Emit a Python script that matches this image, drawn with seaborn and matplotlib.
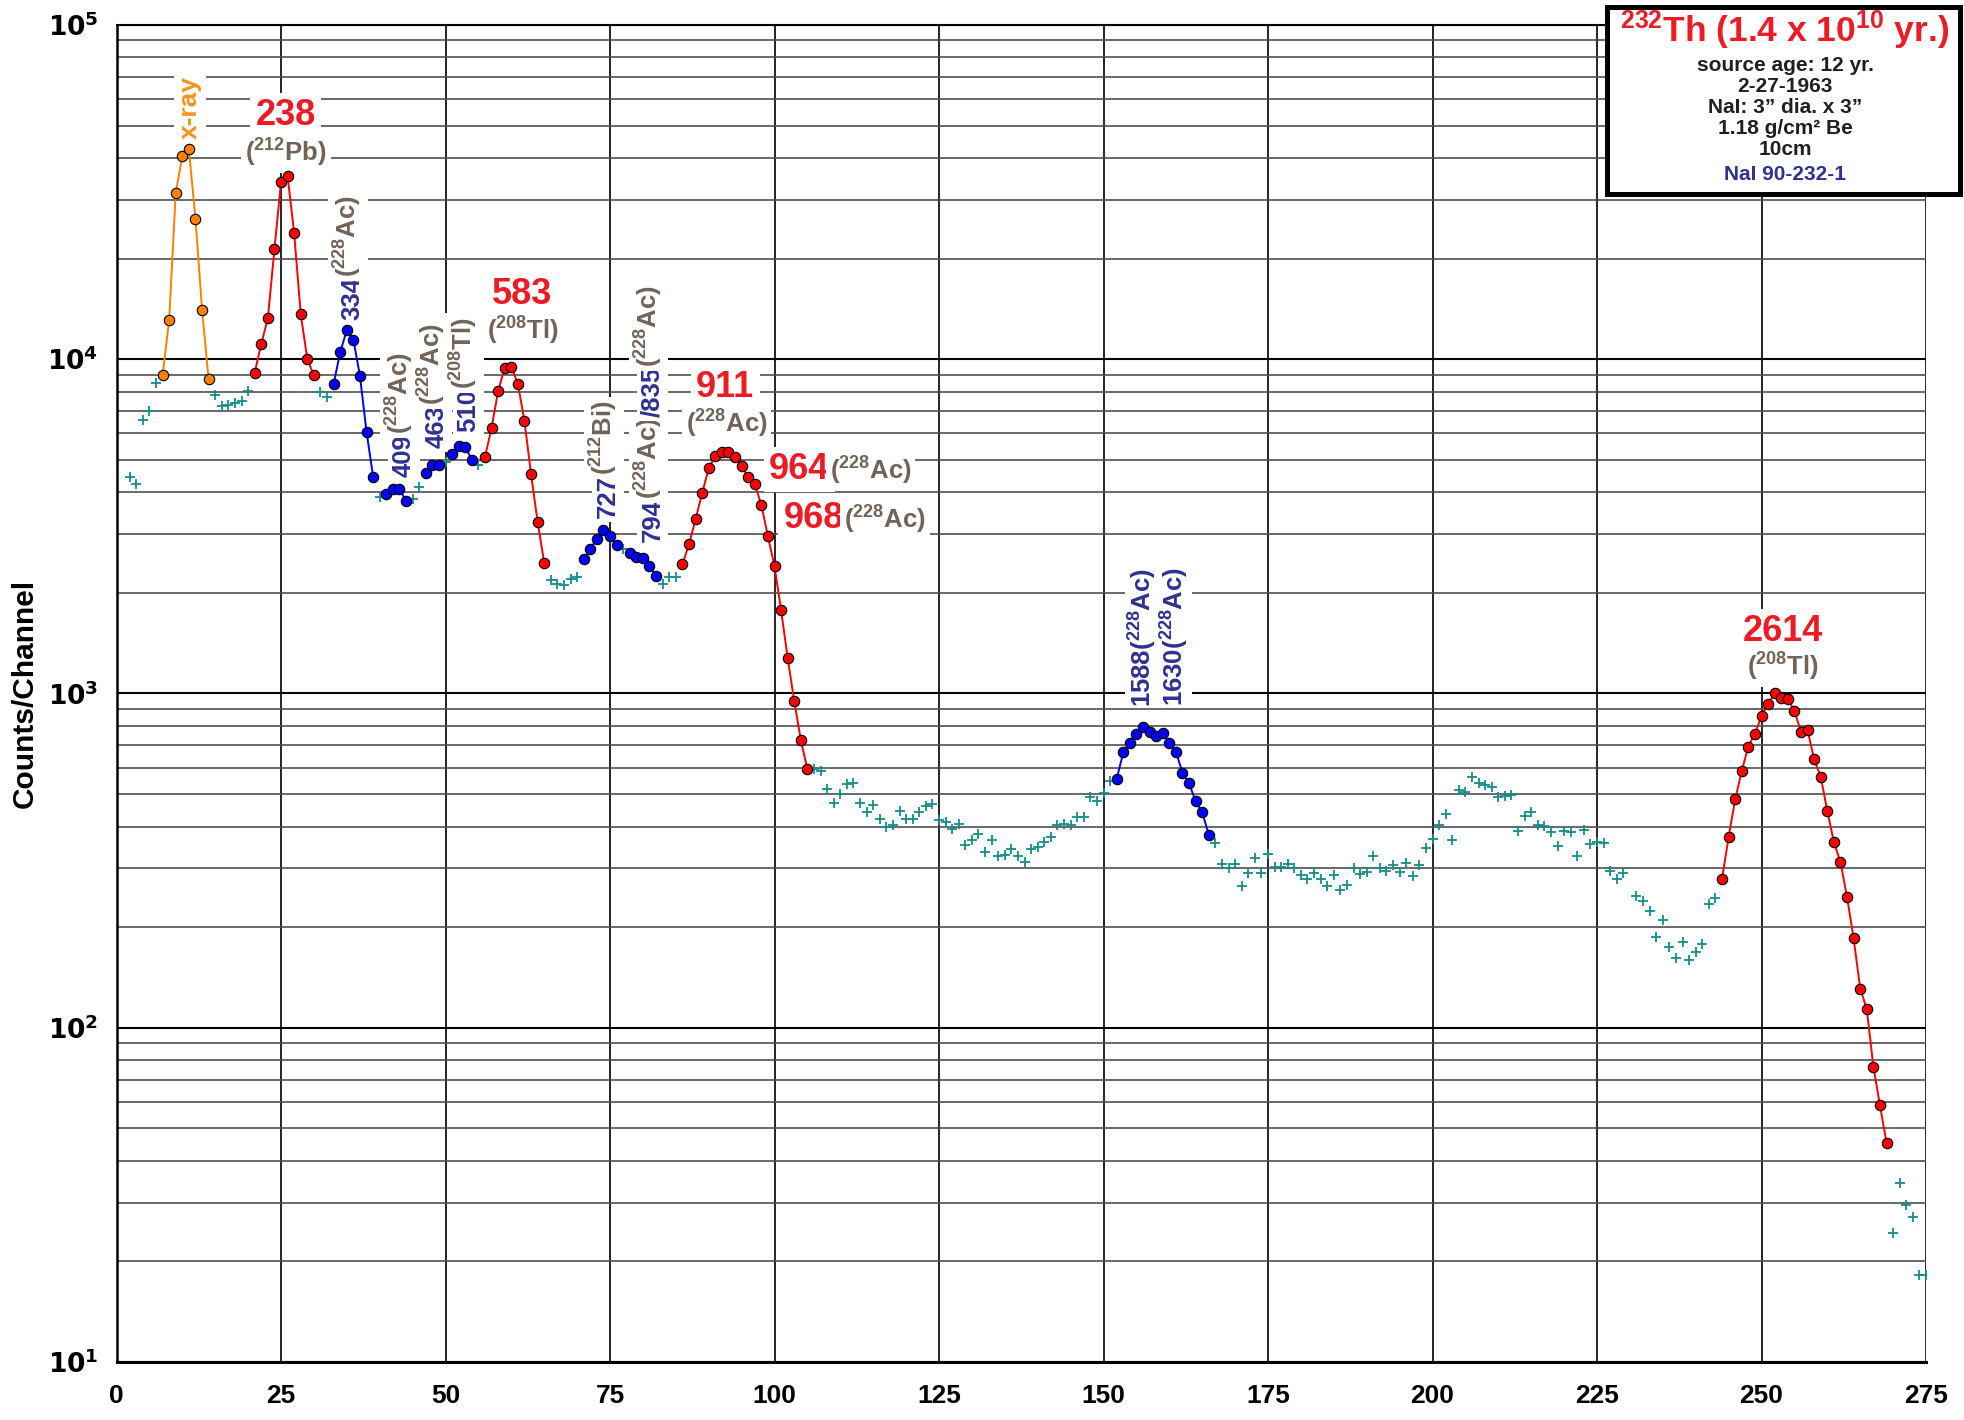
import numpy as np
import pandas as pd
import matplotlib
matplotlib.use("Agg")
import matplotlib.pyplot as plt
from matplotlib.patches import Rectangle
from matplotlib.ticker import LogLocator, MultipleLocator, NullFormatter
import seaborn as sns

# ---------------------------------------------------------------------------
# Spectrum data: channel number -> counts per channel
# ---------------------------------------------------------------------------
# Continuum channels (plotted as crosses)
bg_channels = np.r_[2:7, 15:21, 31:33, 40, 45:47, 50, 55, 66:71, 77, 83:86,
                    106:152, 167:230, 231:244, 270:276]
bg_counts = [
    4430, 4220, 6590, 7010, 8470,
    7820, 7250, 7300, 7380, 7520, 8050,
    8000, 7690,
    3880,
    3820, 4150,
    4930,
    4830,
    2180, 2120, 2110, 2196, 2227,
    2700,
    2120, 2227, 2237,
    593, 587, 517, 469, 502, 535, 540, 471, 442, 464,
    420, 398, 404, 445, 421, 421, 441, 461, 467, 417,
    413, 393, 408, 351, 365, 379, 335, 365, 327, 329,
    342, 327, 313, 342, 348, 360, 372, 404, 406, 404,
    426, 426, 489, 476, 505, 547,
    358, 308, 301, 308, 266, 290, 321, 291, 331, 303,
    303, 308, 300, 287, 279, 290, 278, 265, 287, 259,
    268, 301, 288, 293, 327, 300, 295, 307, 293, 312,
    285, 307, 346, 368, 403, 435, 364, 514, 506, 561,
    539, 532, 524, 489, 493, 496, 389, 430, 441, 404,
    401, 384, 349, 388, 384, 327, 390, 355, 360, 358,
    295, 279, 290,
    247, 239, 224, 187, 210, 175, 162, 180, 160, 168, 178, 234, 244,
    24.3, 34.2, 29.4, 27.2, 18.2, 18.2,
]

# Photopeak regions: first channel and counts of consecutive channels
xray_start, xray_counts = 7, [8970, 13070, 31420, 40550, 42470, 26340, 14070, 8710]
pb238_start, pb238_counts = 21, [9120, 11110, 13260, 21330, 33830, 35400, 23810,
                                 13630, 10000, 8950]
ac334_start, ac334_counts = 33, [8450, 10500, 12220, 11450, 8900, 6060, 4455]
ac409_start, ac409_counts = 41, [3940, 4100, 4080, 3776]
ac463_start, ac463_counts = 47, [4580, 4830, 4830]
tl510_start, tl510_counts = 51, [5200, 5500, 5470, 5010]
tl583_start, tl583_counts = 56, [5100, 6230, 8040, 9440, 9510, 8440, 6530, 4530,
                                 3260, 2460]
bi727_start, bi727_counts = 71, [2520, 2710, 2897, 3077, 2960, 2786]
ac794_start, ac794_counts = 78, [2624, 2556, 2543, 2405, 2252]
ac911_start, ac911_counts = 86, [2432, 2793, 3318, 3975, 4714, 5140, 5272, 5285,
                                 5100, 4795, 4437, 4233, 3663, 2953, 2405, 1777,
                                 1277, 948, 726, 593]
ac1588_start, ac1588_counts = 152, [555, 666, 710, 757, 794, 767, 748, 762, 713,
                                    669, 580, 539, 476, 441, 378]
tl2614_start, tl2614_counts = 244, [279, 372, 482, 587, 694, 759, 855, 931, 1000,
                                    971, 965, 886, 769, 777, 635, 564, 445, 359,
                                    313, 246, 185, 131, 113.6, 76.5, 58.6, 45.3]

x_ticks = [0, 25, 50, 75, 100, 125, 150, 175, 200, 225, 250, 275]
y_ticks = [10, 100, 1000, 10000, 100000]
y_tick_labels = [r"$10^{1}$", r"$10^{2}$", r"$10^{3}$", r"$10^{4}$", r"$10^{5}$"]

# ---------------------------------------------------------------------------
ORANGE, RED, BLUE = "#ff8000", "#ff0000", "#0000ff"
TEAL = "#168c8c"
LBL_RED, LBL_BLUE, LBL_BROWN, LBL_ORANGE = "#ed1c24", "#2e3192", "#736357", "#f7941d"

peaks = [
    ("xray", xray_start, xray_counts, ORANGE),
    ("pb238", pb238_start, pb238_counts, RED),
    ("ac334", ac334_start, ac334_counts, BLUE),
    ("ac409", ac409_start, ac409_counts, BLUE),
    ("ac463", ac463_start, ac463_counts, BLUE),
    ("tl510", tl510_start, tl510_counts, BLUE),
    ("tl583", tl583_start, tl583_counts, RED),
    ("bi727", bi727_start, bi727_counts, BLUE),
    ("ac794", ac794_start, ac794_counts, BLUE),
    ("ac911", ac911_start, ac911_counts, RED),
    ("ac1588", ac1588_start, ac1588_counts, BLUE),
    ("tl2614", tl2614_start, tl2614_counts, RED),
]
peak_df = pd.concat([
    pd.DataFrame({"channel": np.arange(start, start + len(vals)),
                  "counts": vals, "peak": name})
    for name, start, vals, _ in peaks
], ignore_index=True)
palette = {name: col for name, _, _, col in peaks}
bg_df = pd.DataFrame({"channel": bg_channels, "counts": bg_counts})

# ---------------------------------------------------------------------------
sns.set_theme(style="white")
plt.rcParams["font.family"] = ["Liberation Sans", "DejaVu Sans"]
plt.rcParams["font.weight"] = "bold"
plt.rcParams["mathtext.fontset"] = "custom"
plt.rcParams["mathtext.rm"] = "Liberation Sans:bold"
plt.rcParams["mathtext.bf"] = "Liberation Sans:bold"
plt.rcParams["mathtext.default"] = "regular"

fig = plt.figure(figsize=(19.65, 14.2), dpi=100)
ax = fig.add_axes([0.05929, 0.04085, 0.92087, 0.94155])

# data
sns.scatterplot(data=bg_df, x="channel", y="counts", marker="+", color=TEAL,
                s=50, linewidth=1.3, ax=ax, zorder=4, legend=False)
sns.lineplot(data=peak_df, x="channel", y="counts", hue="peak", palette=palette,
             units="peak", estimator=None, sort=False, marker="o", markersize=7.5,
             markeredgecolor="black", markeredgewidth=0.8, lw=1.4, ax=ax,
             zorder=5, legend=False)

ax.set_yscale("log")
ax.set_xlim(0, 275)
ax.set_ylim(10, 1e5)

# grid
ax.set_axisbelow(True)
ax.xaxis.set_major_locator(MultipleLocator(25))
ax.set_xticks(x_ticks)
ax.set_yticks(y_ticks)
ax.set_yticklabels(y_tick_labels, fontfamily="DejaVu Sans", fontsize=19,
                   fontweight="bold")
ax.yaxis.set_minor_locator(LogLocator(base=10, subs=np.arange(2, 10)))
ax.yaxis.set_minor_formatter(NullFormatter())
ax.grid(which="major", axis="x", color="black", lw=1.2)
ax.grid(which="major", axis="y", color="black", lw=1.5)
ax.grid(which="minor", axis="y", color="#4f4f4f", lw=1.2)

for side in ("left", "bottom", "top"):
    ax.spines[side].set_color("black")
ax.spines["left"].set_linewidth(1.8)
ax.spines["bottom"].set_linewidth(2.2)
ax.spines["top"].set_linewidth(1.5)
ax.spines["right"].set_visible(False)

ax.tick_params(axis="both", which="major", direction="out", length=7, width=1.2,
               color="black", labelcolor="black")
ax.tick_params(axis="x", which="major", pad=9, labelsize=19)
ax.tick_params(axis="y", which="major", pad=6)
ax.tick_params(axis="y", which="minor", length=0)
ax.set_xlabel("")
ax.set_ylabel("Counts/Channel", fontsize=21.5, fontweight="bold", color="black")
ax.yaxis.set_label_coords(-0.0428, 0.5)

# ---------------------------------------------------------------------------
# peak labels
BOX = dict(boxstyle="square,pad=0.15", fc="white", ec="none")
BIG, SMALL = 26, 18.5


def text_label(x, y, s, color, size, ha="center", va="baseline", rot=0):
    return ax.text(x, y, s, color=color, fontsize=size, fontweight="bold",
                   ha=ha, va=va, rotation=rot, bbox=BOX, zorder=3)


def rotated_label(x, y, parts, size=SMALL, box=BOX):
    prev = ax.text(x, y, parts[0][0], color=parts[0][1], fontsize=size,
                   fontweight="bold", rotation=90, ha="right", va="bottom",
                   bbox=box, zorder=3)
    for s, col in parts[1:]:
        prev = ax.annotate(s, xy=(1, 1), xycoords=prev, color=col, fontsize=size,
                           fontweight="bold", rotation=90, ha="right",
                           va="bottom", bbox=box, zorder=3)


def chain_label(x, y, parts):
    s0, c0, z0 = parts[0]
    prev = ax.text(x, y, s0, color=c0, fontsize=z0, fontweight="bold",
                   ha="left", va="baseline", bbox=BOX, zorder=3)
    for s, col, z in parts[1:]:
        prev = ax.annotate(s, xy=(1, 0), xycoords=prev, color=col, fontsize=z,
                           fontweight="bold", ha="left", va="bottom",
                           bbox=BOX, zorder=3)


AC = r"($^{228}$Ac)"
TL = r"($^{208}$Tl)"

text_label(11.2, 56450, "x-ray", LBL_ORANGE, 19, va="center", rot=90)
text_label(25.7, 50220, "238", LBL_RED, BIG)
text_label(25.76, 38920, r"($^{212}$Pb)", LBL_BROWN, SMALL)
text_label(61.7, 14630, "583", LBL_RED, BIG)
text_label(61.7, 11420, TL, LBL_BROWN, SMALL)
text_label(92.5, 7712, "911", LBL_RED, BIG)
text_label(92.7, 6017, AC, LBL_BROWN, SMALL)
text_label(253.2, 1436, "2614", LBL_RED, BIG)
text_label(253.3, 1132, TL, LBL_BROWN, SMALL)

rotated_label(37.6, 13100, [("334", LBL_BLUE), (AC, LBL_BROWN)])
rotated_label(45.5, 4453, [("409", LBL_BLUE), (AC, LBL_BROWN)])
rotated_label(50.4, 5414, [("463", LBL_BLUE), (AC, LBL_BROWN)])
rotated_label(55.3, 6070, [("510", LBL_BLUE), (TL, LBL_BROWN)])
rotated_label(76.5, 3350, [("727", LBL_BLUE), (r"($^{212}$Bi)", LBL_BROWN)])
rotated_label(83.3, 2840, [("794", LBL_BLUE), (AC, LBL_BROWN),
                           ("/835", LBL_BLUE), (AC, LBL_BROWN)])
# the two 228Ac high-energy lines share one white backing
pair_box = dict(boxstyle="square,pad=0.05", fc="white", ec="none")
rotated_label(158.4, 911, [("1588" + AC, LBL_BLUE)], box=pair_box)
rotated_label(163.3, 918, [("1630" + AC, LBL_BLUE)], box=pair_box)

chain_label(99.2, 4382, [("964", LBL_RED, BIG), (AC, LBL_BROWN, SMALL)])
chain_label(101.4, 3127, [("968", LBL_RED, BIG), (AC, LBL_BROWN, SMALL)])

# ---------------------------------------------------------------------------
# source information box
fig.add_artist(Rectangle((0.8176, 0.86303), 0.1801, 0.13239,
                         transform=fig.transFigure, fc="white", ec="black",
                         lw=3.6, zorder=5))
cx = 0.9084
fig.text(cx, 0.9789, r"$^{232}$Th (1.4 x 10$^{10}$ yr.)", color=LBL_RED,
         fontsize=25.5, fontweight="bold", ha="center", va="center", zorder=6)
info_lines = ["source age: 12 yr.", "2-27-1963", "NaI: 3\u201d dia. x 3\u201d",
              "1.18 g/cm\u00b2 Be", "10cm"]
for i, line in enumerate(info_lines):
    fig.text(cx, 0.9540 - i * 0.01479, line, color="#231f20", fontsize=15,
             fontweight="bold", ha="center", va="center", zorder=6)
fig.text(cx, 0.8768, "NaI 90-232-1", color=LBL_BLUE, fontsize=15,
         fontweight="bold", ha="center", va="center", zorder=6)

fig.savefig("out.png", dpi=100, facecolor="white")
